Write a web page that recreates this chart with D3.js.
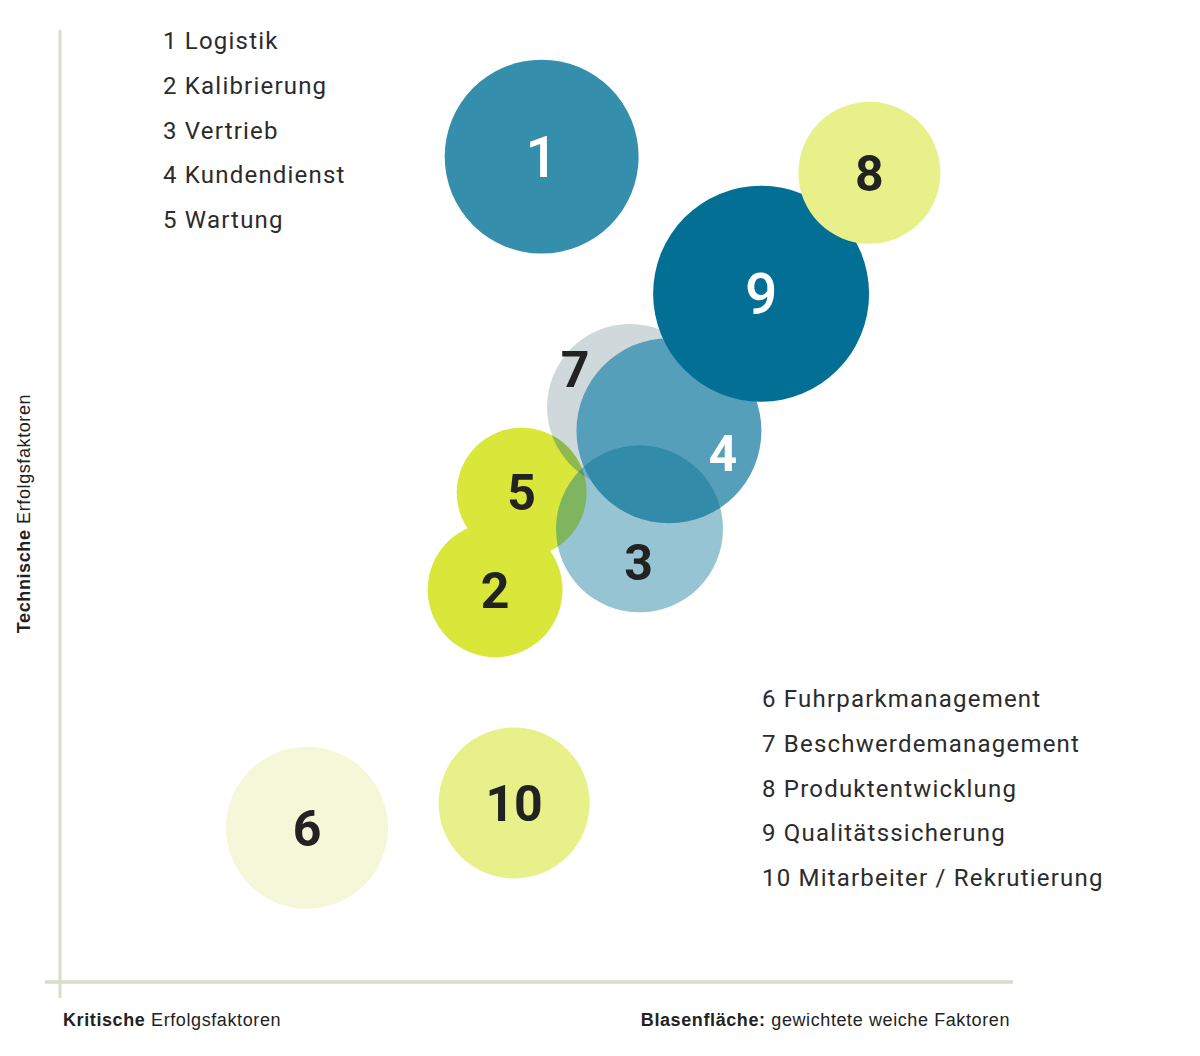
<!DOCTYPE html>
<html>
<head>
<meta charset="utf-8">
<script src="https://cdn.jsdelivr.net/npm/d3@7"></script>
<style>
  html, body { margin: 0; padding: 0; background: #fff; }
  svg { display: block; }
</style>
</head>
<body>
<svg id="chart" width="1200" height="1056"></svg>
<script>
// ---- data ----
const ids        = [1, 2, 3, 4, 5, 6, 7, 8, 9, 10];
const names      = ["Logistik", "Kalibrierung", "Vertrieb", "Kundendienst", "Wartung",
                    "Fuhrparkmanagement", "Beschwerdemanagement", "Produktentwicklung",
                    "Qualitätssicherung", "Mitarbeiter / Rekrutierung"];
const critical   = [50.7, 45.8, 61.0, 64.1, 48.6, 26.0, 60.0, 85.2, 73.8, 47.8]; // x
const technical  = [86.7, 41.2, 47.6, 57.9, 51.4, 16.2, 60.4, 85.0, 72.3, 18.8]; // y
const softArea   = [65.3, 31.6, 48.4, 59.4, 29.3, 45.6, 47.8, 35.0, 81.0, 39.6]; // bubble area
const legendLeft  = [1, 2, 3, 4, 5];
const legendRight = [6, 7, 8, 9, 10];

// ---- styles ----
const fills = {
  1: "#358eac", 2: "#d9e63a", 3: "rgba(3,111,148,0.41)", 4: "#559fba", 5: "#d9e63a",
  6: "#f4f8d8", 7: "#cfd8da", 8: "#e8f08a", 9: "#036f94", 10: "#e8f08a"
};
const labelColor = { 1: "#fff", 4: "#fff", 9: "#fff" };
const labelSize  = { 1: 57, 9: 57 };
const labelWeight = { 1: 500, 9: 500 };
const labelOffset = { 7: [-55, -38], 4: [54, 22], 3: [-1, 33] };
const drawOrder = [7, 5, 2, 4, 3, 1, 9, 8, 6, 10];

const svg = d3.select("#chart");
const x = d3.scaleLinear().domain([0, 100]).range([60, 1010]);
const y = d3.scaleLinear().domain([0, 100]).range([982, 30]);
const r = d3.scaleSqrt().domain([0, 100]).range([0, 120]);

const data = ids.map((id, i) => ({ id, name: names[i], x: critical[i], y: technical[i], a: softArea[i] }));
const byId = new Map(data.map(d => [d.id, d]));

// axes
const axisColor = "#d7ddcb";
svg.append("line")
  .attr("x1", x(0)).attr("x2", x(0))
  .attr("y1", y(100)).attr("y2", y(0) + 16)
  .attr("stroke", axisColor).attr("stroke-width", 3);
svg.append("line")
  .attr("x1", x(0) - 15).attr("x2", x(100) + 3)
  .attr("y1", y(0)).attr("y2", y(0))
  .attr("stroke", axisColor).attr("stroke-width", 3.5);

// clip for overlap 5 ∩ 7
const defs = svg.append("defs");
defs.append("clipPath").attr("id", "clip7")
  .append("circle")
  .attr("cx", x(byId.get(7).x)).attr("cy", y(byId.get(7).y)).attr("r", r(byId.get(7).a));

const g = svg.append("g");
drawOrder.forEach(id => {
  const d = byId.get(id);
  g.append("circle")
    .attr("cx", x(d.x)).attr("cy", y(d.y)).attr("r", r(d.a))
    .attr("fill", fills[id]);
  if (id === 5) {
    g.append("circle")
      .attr("clip-path", "url(#clip7)")
      .attr("cx", x(d.x)).attr("cy", y(d.y)).attr("r", r(d.a))
      .attr("fill", "#8fb94f");
  }
});

// bubble labels
svg.append("g").selectAll("text").data(data).join("text")
  .attr("x", d => x(d.x) + (labelOffset[d.id] ? labelOffset[d.id][0] : 0))
  .attr("y", d => y(d.y) + (labelOffset[d.id] ? labelOffset[d.id][1] : 0))
  .attr("dy", "0.355em")
  .attr("text-anchor", "middle")
  .attr("font-family", "Roboto, sans-serif")
  .attr("font-size", d => labelSize[d.id] || 50)
  .attr("font-weight", d => labelWeight[d.id] || 700)
  .attr("fill", d => labelColor[d.id] || "#222")
  .text(d => d.id);

// legends
function legend(list, lx, ly) {
  svg.append("g").selectAll("text").data(list).join("text")
    .attr("x", lx)
    .attr("y", (d, i) => ly + i * 44.75)
    .attr("font-family", "Roboto, sans-serif")
    .attr("font-size", 24)
    .attr("letter-spacing", 1.2)
    .attr("fill", "#2b2b2b")
    .text(id => id + " " + byId.get(id).name);
}
legend(legendLeft, 163, 49);
legend(legendRight, 762, 707);

// axis titles
const tf = "'Liberation Sans', Arial, sans-serif";
const yt = svg.append("text")
  .attr("transform", `translate(30, ${(392 + 635) / 2}) rotate(-90)`)
  .attr("text-anchor", "middle")
  .attr("font-family", tf).attr("font-size", 18).attr("letter-spacing", 0.6).attr("fill", "#222");
yt.append("tspan").attr("font-weight", 700).text("Technische");
yt.append("tspan").text(" Erfolgsfaktoren");

const xt = svg.append("text")
  .attr("x", 63).attr("y", 1026)
  .attr("font-family", tf).attr("font-size", 18).attr("letter-spacing", 0.6).attr("fill", "#222");
xt.append("tspan").attr("font-weight", 700).text("Kritische");
xt.append("tspan").text(" Erfolgsfaktoren");

const bt = svg.append("text")
  .attr("x", 1010).attr("y", 1026)
  .attr("text-anchor", "end")
  .attr("font-family", tf).attr("font-size", 18).attr("letter-spacing", 0.6).attr("fill", "#222");
bt.append("tspan").attr("font-weight", 700).text("Blasenfläche:");
bt.append("tspan").text(" gewichtete weiche Faktoren");
</script>
</body>
</html>
